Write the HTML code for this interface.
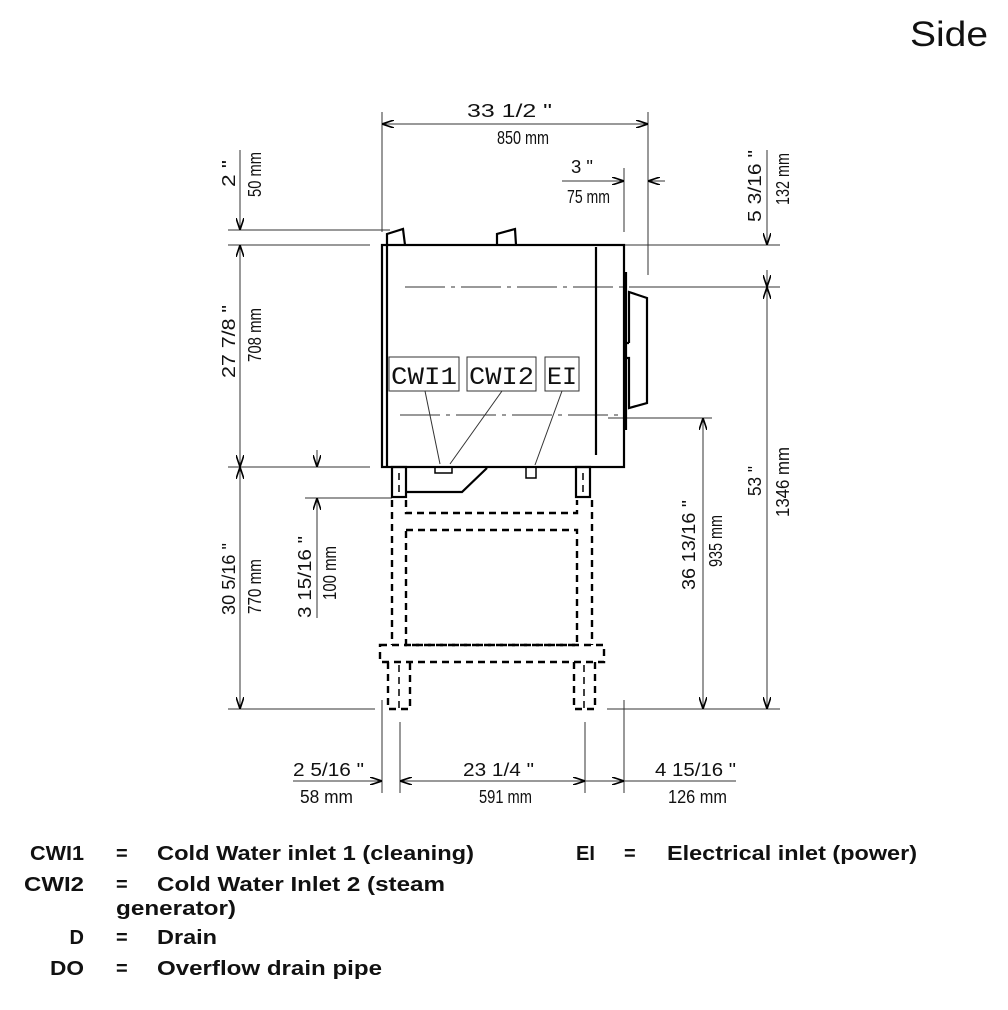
<!DOCTYPE html>
<html><head><meta charset="utf-8"><style>
html,body{margin:0;padding:0;background:#fff;}
svg{display:block}
.d{font-family:"Liberation Sans",sans-serif;font-size:18px;fill:#111}
.lg{font-family:"Liberation Sans","DejaVu Sans",sans-serif;font-size:20px;font-weight:bold;fill:#111}
</style></head><body>
<svg width="1008" height="1010" viewBox="0 0 1008 1010" xmlns="http://www.w3.org/2000/svg">
<defs>
<marker id="a" viewBox="0 0 12 8" refX="12" refY="4" markerWidth="12" markerHeight="8" markerUnits="userSpaceOnUse" orient="auto-start-reverse">
<path d="M0,0 L12,4 L0,8" fill="none" stroke="#000" stroke-width="1.6"/>
</marker>
</defs>
<text x="910" y="46" font-family="Liberation Sans,sans-serif" font-size="35" fill="#111" textLength="78" lengthAdjust="spacingAndGlyphs">Side</text>

<g stroke="#333" stroke-width="1" fill="none">
<line x1="382" y1="112" x2="382" y2="232"/>
<line x1="648" y1="112" x2="648" y2="275"/>
<line x1="382" y1="124" x2="648" y2="124" marker-start="url(#a)" marker-end="url(#a)"/>
<line x1="624" y1="168" x2="624" y2="232"/>
<line x1="562" y1="181" x2="624" y2="181" marker-end="url(#a)"/>
<line x1="665" y1="181" x2="648" y2="181" marker-end="url(#a)"/>
<line x1="625" y1="245" x2="780" y2="245"/>
<line x1="648" y1="287" x2="780" y2="287"/>
<line x1="607" y1="709" x2="780" y2="709"/>
<line x1="608" y1="418" x2="712" y2="418"/>
<line x1="767" y1="150" x2="767" y2="245" marker-end="url(#a)"/>
<line x1="767" y1="270" x2="767" y2="287" marker-end="url(#a)"/>
<line x1="767" y1="287" x2="767" y2="709" marker-start="url(#a)" marker-end="url(#a)"/>
<line x1="703" y1="418" x2="703" y2="709" marker-start="url(#a)" marker-end="url(#a)"/>
<line x1="228" y1="230" x2="390" y2="230"/>
<line x1="228" y1="245" x2="370" y2="245"/>
<line x1="228" y1="467" x2="370" y2="467"/>
<line x1="228" y1="709" x2="375" y2="709"/>
<line x1="240" y1="150" x2="240" y2="230" marker-end="url(#a)"/>
<line x1="240" y1="245" x2="240" y2="467" marker-start="url(#a)" marker-end="url(#a)"/>
<line x1="240" y1="467" x2="240" y2="709" marker-start="url(#a)" marker-end="url(#a)"/>
<line x1="305" y1="498" x2="392" y2="498"/>
<line x1="317" y1="450" x2="317" y2="467" marker-end="url(#a)"/>
<line x1="317" y1="618" x2="317" y2="498" marker-end="url(#a)"/>
<line x1="382" y1="700" x2="382" y2="793"/>
<line x1="400" y1="722" x2="400" y2="793"/>
<line x1="585" y1="722" x2="585" y2="793"/>
<line x1="624" y1="700" x2="624" y2="793"/>
<line x1="293" y1="781" x2="382" y2="781" marker-end="url(#a)"/>
<line x1="400" y1="781" x2="585" y2="781" marker-start="url(#a)" marker-end="url(#a)"/>
<line x1="585" y1="781" x2="624" y2="781" marker-end="url(#a)"/>
<line x1="624" y1="781" x2="736" y2="781"/>
<line x1="405" y1="287" x2="650" y2="287" stroke-dasharray="40,6,4,6"/>
<line x1="400" y1="415" x2="620" y2="415" stroke-dasharray="40,6,4,6"/>
<line x1="425" y1="391" x2="440" y2="464"/>
<line x1="502" y1="391" x2="450" y2="464"/>
<line x1="562" y1="391" x2="535" y2="465"/>
<rect x="389" y="357" width="70" height="34" fill="#fff"/>
<rect x="467" y="357" width="69" height="34" fill="#fff"/>
<rect x="545" y="357" width="34" height="34" fill="#fff"/>
</g>

<g stroke="#000" stroke-width="2.2" fill="none">
<rect x="382" y="245" width="242" height="222"/>
<line x1="387" y1="245" x2="387" y2="467"/>
<line x1="596" y1="247" x2="596" y2="455"/>
<line x1="626" y1="272" x2="626" y2="430"/>
<path d="M387,245 L387,234 L403,229 L405,245"/>
<path d="M497,245 L497,234 L515,229 L516,245"/>
<path d="M629,343 L629,292 L647,298 L647,403 L629,408 L629,358 L626,358 M629,343 L626,343"/>
<rect x="392" y="467" width="14" height="30"/>
<rect x="576" y="467" width="14" height="30"/>
<path d="M406,492 L462,492 L487,468"/>
<rect x="435" y="467" width="17" height="6" stroke-width="1.5"/>
<rect x="526" y="467" width="10" height="11" stroke-width="1.5"/>
</g>
<g stroke="#000" stroke-width="2.4" fill="none" stroke-dasharray="7,5">
<line x1="392" y1="500" x2="392" y2="645"/>
<line x1="592" y1="500" x2="592" y2="645"/>
<path d="M406,500 L406,513 L577,513 L577,500"/>
<rect x="406" y="530" width="171" height="115"/>
<rect x="380" y="645" width="224" height="17"/>
<path d="M388,662 L388,709 L410,709 L410,662"/>
<path d="M574,662 L574,709 L595,709 L595,662"/>
<line x1="399" y1="665" x2="399" y2="709" stroke-width="1.5"/>
<line x1="399" y1="473" x2="399" y2="497" stroke-width="1.5"/>
<line x1="583" y1="473" x2="583" y2="497" stroke-width="1.5"/>
<line x1="584" y1="665" x2="584" y2="709" stroke-width="1.5"/>
</g>

<g font-family="Liberation Mono,monospace" font-size="25" fill="#111">
<text x="391" y="384" textLength="66" lengthAdjust="spacingAndGlyphs">CWI1</text>
<text x="469" y="384" textLength="65" lengthAdjust="spacingAndGlyphs">CWI2</text>
<text x="547" y="384" textLength="30" lengthAdjust="spacingAndGlyphs">EI</text>
</g>

<g class="d" lengthAdjust="spacingAndGlyphs">
<text x="467" y="117" textLength="85" lengthAdjust="spacingAndGlyphs">33  1/2 "</text>
<text x="497" y="144" textLength="52" lengthAdjust="spacingAndGlyphs">850 mm</text>
<text x="571" y="173" textLength="22" lengthAdjust="spacingAndGlyphs">3 "</text>
<text x="567" y="203" textLength="43" lengthAdjust="spacingAndGlyphs">75 mm</text>
<text x="293" y="776" textLength="71" lengthAdjust="spacingAndGlyphs">2  5/16 "</text>
<text x="300" y="803" textLength="53" lengthAdjust="spacingAndGlyphs">58 mm</text>
<text x="463" y="776" textLength="71" lengthAdjust="spacingAndGlyphs">23  1/4 "</text>
<text x="479" y="803" textLength="53" lengthAdjust="spacingAndGlyphs">591 mm</text>
<text x="655" y="776" textLength="81" lengthAdjust="spacingAndGlyphs">4  15/16 "</text>
<text x="668" y="803" textLength="59" lengthAdjust="spacingAndGlyphs">126 mm</text>
<text transform="translate(235,187) rotate(-90)" textLength="27" lengthAdjust="spacingAndGlyphs">2 "</text>
<text transform="translate(261,197) rotate(-90)" textLength="45" lengthAdjust="spacingAndGlyphs">50 mm</text>
<text transform="translate(235,378) rotate(-90)" textLength="73" lengthAdjust="spacingAndGlyphs">27  7/8 "</text>
<text transform="translate(261,362) rotate(-90)" textLength="54" lengthAdjust="spacingAndGlyphs">708 mm</text>
<text transform="translate(235,615) rotate(-90)" textLength="72" lengthAdjust="spacingAndGlyphs">30  5/16 "</text>
<text transform="translate(261,614) rotate(-90)" textLength="55" lengthAdjust="spacingAndGlyphs">770 mm</text>
<text transform="translate(311,618) rotate(-90)" textLength="82" lengthAdjust="spacingAndGlyphs">3  15/16 "</text>
<text transform="translate(336,600) rotate(-90)" textLength="54" lengthAdjust="spacingAndGlyphs">100 mm</text>
<text transform="translate(761,222) rotate(-90)" textLength="72" lengthAdjust="spacingAndGlyphs">5  3/16 "</text>
<text transform="translate(789,205) rotate(-90)" textLength="52" lengthAdjust="spacingAndGlyphs">132 mm</text>
<text transform="translate(761,496) rotate(-90)" textLength="30" lengthAdjust="spacingAndGlyphs">53 "</text>
<text transform="translate(789,517) rotate(-90)" textLength="70" lengthAdjust="spacingAndGlyphs">1346 mm</text>
<text transform="translate(695,590) rotate(-90)" textLength="90" lengthAdjust="spacingAndGlyphs">36  13/16 "</text>
<text transform="translate(722,567) rotate(-90)" textLength="52" lengthAdjust="spacingAndGlyphs">935 mm</text>
</g>

<g class="lg">
<text x="30" y="860" textLength="54" lengthAdjust="spacingAndGlyphs">CWI1</text>
<text x="116" y="860">=</text>
<text x="157" y="860" textLength="317" lengthAdjust="spacingAndGlyphs">Cold Water inlet 1 (cleaning)</text>
<text x="24" y="891" textLength="60" lengthAdjust="spacingAndGlyphs">CWI2</text>
<text x="116" y="891">=</text>
<text x="157" y="891" textLength="288" lengthAdjust="spacingAndGlyphs">Cold Water Inlet 2 (steam</text>
<text x="116" y="915" textLength="120" lengthAdjust="spacingAndGlyphs">generator)</text>
<text x="84" y="944" text-anchor="end">D</text>
<text x="116" y="944">=</text>
<text x="157" y="944" textLength="60" lengthAdjust="spacingAndGlyphs">Drain</text>
<text x="50" y="975" textLength="34" lengthAdjust="spacingAndGlyphs">DO</text>
<text x="116" y="975">=</text>
<text x="157" y="975" textLength="225" lengthAdjust="spacingAndGlyphs">Overflow drain pipe</text>
<text x="576" y="860">EI</text>
<text x="624" y="860">=</text>
<text x="667" y="860" textLength="250" lengthAdjust="spacingAndGlyphs">Electrical inlet (power)</text>
</g>
</svg>
</body></html>
